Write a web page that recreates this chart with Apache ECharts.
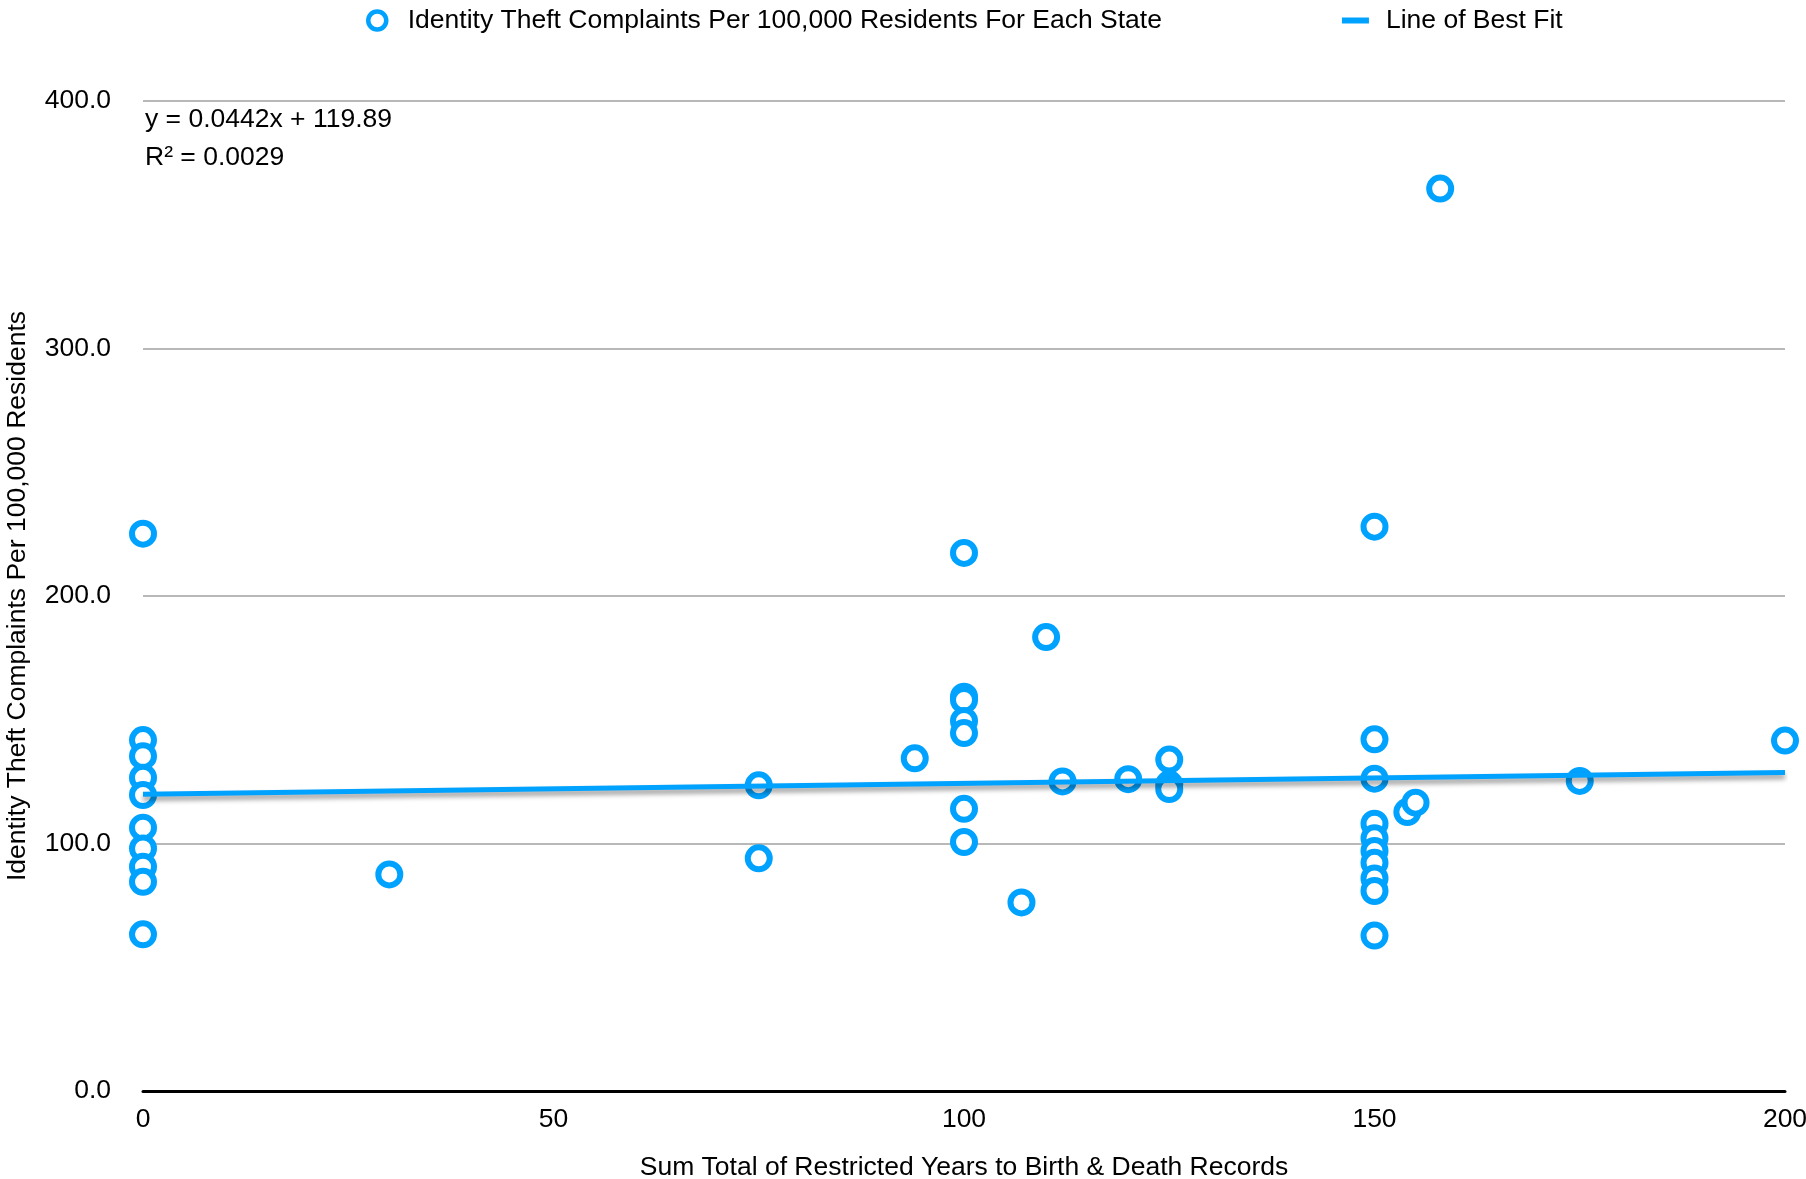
<!DOCTYPE html>
<html>
<head>
<meta charset="utf-8">
<title>Identity Theft Complaints vs Restricted Years</title>
<script src="https://cdn.jsdelivr.net/npm/echarts@6/dist/echarts.min.js"></script>
<style>
  html, body { margin: 0; padding: 0; background: #fff; }
  #chart { width: 1806px; height: 1179px; }
</style>
</head>
<body>
<div id="chart"></div>
<script>
// Sum total of restricted years (x) and complaints per 100,000 residents (y)
const restrictedYears = [
  0, 0, 0, 0, 0, 0, 0, 0, 0, 0,
  30,
  75, 75,
  94,
  100, 100, 100, 100, 100, 100, 100,
  107, 110, 112, 120,
  125, 125, 125,
  150, 150, 150, 150, 150, 150, 150, 150, 150, 150,
  154, 155, 158, 175, 200
]
const complaints = [
  225.2, 141.8, 135.3, 126.6, 119.6, 106.4, 98.0, 90.6, 84.5, 63.3,
  87.5,
  123.5, 94.0,
  134.4,
  217.4, 159.3, 158.0, 149.5, 144.6, 114.0, 100.6,
  76.2, 183.4, 125.1, 126.0,
  133.9, 123.9, 122.0,
  228.0, 142.1, 126.2, 108.0, 102.1, 97.0, 92.2, 85.9, 80.8, 62.8,
  112.7, 116.5, 364.6, 125.3, 141.6
]
// trend line end points (x = 0 and x = 200)
const fitX = [0, 200]
const fitY = [119.89, 128.73]
const equationLines = ['y = 0.0442x + 119.89', 'R² = 0.0029']

const BLUE = '#00a2ff'
const FONT = "'Liberation Sans', Arial, sans-serif"
const FS = 26.5

const scatterData = restrictedYears.map((x, i) => [x, complaints[i]])
const fitData = fitX.map((x, i) => [x, fitY[i]])

const option = {
  animation: false,
  backgroundColor: '#fff',
  textStyle: { fontFamily: FONT },
  legend: {
    top: 2,
    left: 361,
    itemWidth: 27,
    itemHeight: 18,
    itemGap: 180,
    textStyle: { fontSize: FS, color: '#000', padding: [0, 0, 0, 12] },
    data: [
      {
        name: 'Identity Theft Complaints Per 100,000 Residents For Each State',
        icon: 'circle',
        itemStyle: { color: '#fff', borderColor: BLUE, borderWidth: 4.5 }
      },
      {
        name: 'Line of Best Fit',
        icon: 'path://M0,0H27V6H0Z',
        itemStyle: { color: BLUE, borderWidth: 0 }
      }
    ]
  },
  grid: {
    left: 143,
    right: 21,
    top: 101,
    bottom: 88,
    outerBoundsMode: 'none'
  },
  xAxis: {
    type: 'value',
    min: 0,
    max: 200,
    interval: 50,
    name: 'Sum Total of Restricted Years to Birth & Death Records',
    nameLocation: 'middle',
    nameGap: 63,
    nameTextStyle: { fontSize: FS, color: '#000' },
    axisLine: { show: true, lineStyle: { color: '#000', width: 3 } },
    axisTick: { show: false },
    axisLabel: { fontSize: FS, color: '#000', margin: 15 },
    splitLine: { show: false }
  },
  yAxis: {
    type: 'value',
    min: 0,
    max: 400,
    interval: 100,
    name: 'Identity Theft Complaints Per 100,000 Residents',
    nameLocation: 'middle',
    nameGap: 112,
    nameTextStyle: { fontSize: FS, color: '#000' },
    axisLine: { show: false },
    axisTick: { show: false },
    axisLabel: {
      fontSize: FS,
      color: '#000',
      margin: 32,
      formatter: v => v.toFixed(1)
    },
    splitLine: { lineStyle: { color: '#b8b8b8', width: 2 } }
  },
  graphic: [
    {
      type: 'text',
      left: 145,
      top: 106,
      style: { text: equationLines[0], fontSize: FS, fill: '#000', fontFamily: FONT }
    },
    {
      type: 'text',
      left: 145,
      top: 144,
      style: { text: equationLines[1], fontSize: FS, fill: '#000', fontFamily: FONT }
    }
  ],
  series: [
    {
      name: 'Identity Theft Complaints Per 100,000 Residents For Each State',
      type: 'scatter',
      symbol: 'circle',
      symbolSize: 22,
      z: 2,
      itemStyle: { color: '#fff', borderColor: BLUE, borderWidth: 6, opacity: 1 },
      data: scatterData
    },
    {
      name: 'Line of Best Fit',
      type: 'line',
      showSymbol: false,
      symbol: 'none',
      z: 3,
      lineStyle: {
        color: BLUE,
        width: 5,
        shadowColor: 'rgba(0,0,0,0.4)',
        shadowBlur: 5,
        shadowOffsetY: 4
      },
      itemStyle: { color: BLUE },
      data: fitData
    }
  ]
}

const chart = echarts.init(document.getElementById('chart'))
chart.setOption(option)
</script>
</body>
</html>
